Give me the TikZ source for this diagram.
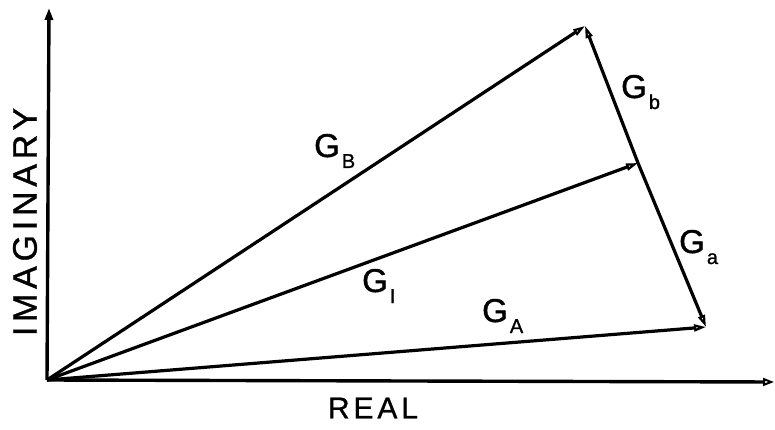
\documentclass[tikz,border=0pt]{standalone}
\usepackage{fontspec}
\setmainfont{Liberation Sans}
\usetikzlibrary{arrows.meta}
\tikzset{
  vec/.style={line width=3.2pt, -{Triangle[open,length=12pt,width=7pt,line width=2.2pt]}, shorten >=0pt},
  axis/.style={line width=3.4pt},
  glabel/.style={font=\fontsize{33}{33}\selectfont\addfontfeature{FakeBold=1.2}, inner sep=0pt, anchor=base west},
  axlabel/.style={inner sep=0pt}
}
\newcommand{\Gsub}[1]{G\hspace{2pt}\raisebox{-11pt}{\fontsize{20}{20}\selectfont #1}}
\begin{document}
\begin{tikzpicture}[x=1pt,y=-1pt]
\useasboundingbox (0,0) rectangle (775,430);
\coordinate (O) at (47,380);
\coordinate (Ytop) at (49,8);
\coordinate (Xend) at (774,382);
\coordinate (B) at (585,26);
\coordinate (I) at (638,163);
\coordinate (A) at (706,327);
\draw[axis, -{Triangle[length=12pt,width=8pt]}] (O) -- (Ytop);
\draw[axis, -{Triangle[open,length=11pt,width=8pt,line width=2pt]}] (O) -- (Xend);
\draw[vec] (O) -- (B);
\draw[vec] (O) -- (I);
\draw[vec] (O) -- (A);
\draw[vec] (I) -- (B);
\draw[vec] (I) -- (A);
\node[glabel] (gB) at (314,157) {\Gsub{B}};
\node[glabel] (gI) at (362,292) {\Gsub{I}};
\node[glabel] (gA) at (482,322) {\Gsub{A}};
\node[glabel] (gb) at (621,98) {\Gsub{b}};
\node[glabel] (ga) at (679,253) {\Gsub{a}};
\node[axlabel, rotate=90, font=\fontsize{34}{34}\selectfont\addfontfeature{LetterSpace=14,FakeBold=1}] (im) at (25,222) {IMAGINARY};
\node[axlabel, font=\fontsize{30}{30}\selectfont\addfontfeature{LetterSpace=13,FakeBold=1}] (re) at (373,408) {REAL};
\end{tikzpicture}
\end{document}
